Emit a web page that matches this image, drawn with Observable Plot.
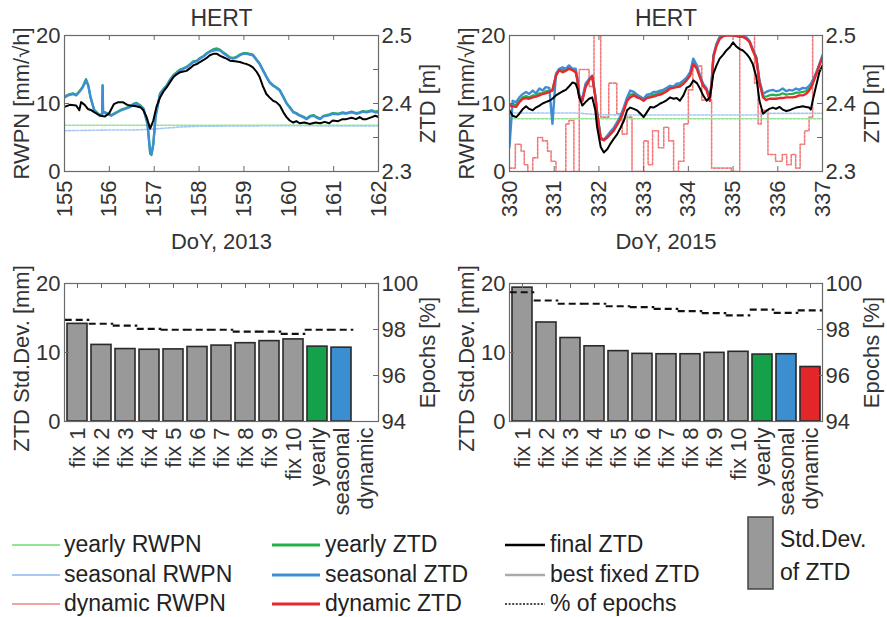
<!DOCTYPE html>
<html><head><meta charset="utf-8">
<script src="https://cdn.jsdelivr.net/npm/d3@7"></script>
<script src="https://cdn.jsdelivr.net/npm/@observablehq/plot@0.6"></script>
<style>
body{margin:0;background:#fff;}
#root{position:relative;width:887px;height:617px;overflow:hidden;font-family:"Liberation Sans",Arial,sans-serif;color:#333;background:#fff}
.panel{position:absolute}
.panel svg{overflow:visible}
.leg{position:absolute;font-size:23px;line-height:1;white-space:nowrap;color:#222}
</style></head>
<body><div id="root"></div>
<script>
// ---------------- DATA ----------------
// 2013 (DoY 155-162)
const days2013Final = [155.00,155.12,155.26,155.33,155.37,155.45,155.52,155.60,155.67,155.80,155.90,155.99,156.10,156.20,156.30,156.40,156.47,156.60,156.70,156.76,156.83,156.91,156.98,157.05,157.13,157.20,157.28,157.35,157.43,157.50,157.58,157.65,157.72,157.80,157.87,157.95,158.02,158.10,158.17,158.24,158.32,158.40,158.47,158.54,158.61,158.69,158.80,158.91,159.00,159.06,159.13,159.20,159.28,159.35,159.42,159.50,159.57,159.65,159.72,159.80,159.88,159.95,160.02,160.10,160.17,160.24,160.35,160.46,160.60,160.70,160.80,160.90,160.98,161.10,161.20,161.28,161.40,161.50,161.58,161.65,161.73,161.85,161.93,162.00];
const finalZTD2013 = [2.395,2.398,2.397,2.390,2.402,2.398,2.392,2.390,2.387,2.382,2.381,2.385,2.399,2.402,2.402,2.398,2.397,2.396,2.394,2.390,2.380,2.363,2.375,2.395,2.409,2.417,2.424,2.431,2.439,2.443,2.446,2.447,2.448,2.452,2.456,2.458,2.461,2.464,2.467,2.471,2.473,2.473,2.470,2.468,2.466,2.463,2.462,2.461,2.459,2.458,2.456,2.453,2.447,2.439,2.426,2.414,2.409,2.404,2.402,2.397,2.387,2.380,2.375,2.372,2.374,2.371,2.372,2.370,2.372,2.371,2.373,2.371,2.375,2.374,2.377,2.377,2.379,2.377,2.380,2.377,2.377,2.380,2.382,2.380];
const days2013 = [155.00,155.08,155.19,155.26,155.33,155.40,155.48,155.53,155.58,155.66,155.72,155.78,155.84,155.85,155.86,155.95,156.04,156.15,156.26,156.35,156.47,156.55,156.60,156.68,156.76,156.85,156.91,156.94,156.98,157.03,157.13,157.20,157.28,157.35,157.43,157.50,157.58,157.65,157.72,157.80,157.87,157.95,158.02,158.10,158.17,158.24,158.32,158.40,158.47,158.54,158.61,158.69,158.76,158.84,158.91,158.98,159.06,159.13,159.20,159.28,159.35,159.42,159.50,159.57,159.65,159.72,159.80,159.88,159.95,160.02,160.10,160.17,160.24,160.32,160.40,160.48,160.55,160.63,160.70,160.77,160.84,160.91,160.98,161.10,161.20,161.28,161.40,161.50,161.58,161.65,161.73,161.85,161.93,162.00];
const seasonalZTD2013 = [2.409,2.412,2.414,2.412,2.417,2.423,2.434,2.426,2.409,2.390,2.386,2.382,2.384,2.426,2.387,2.385,2.382,2.386,2.390,2.392,2.395,2.399,2.400,2.397,2.392,2.370,2.328,2.326,2.341,2.380,2.414,2.420,2.426,2.434,2.441,2.445,2.449,2.451,2.453,2.457,2.461,2.462,2.466,2.469,2.473,2.476,2.478,2.479,2.478,2.474,2.471,2.467,2.466,2.468,2.471,2.473,2.473,2.472,2.471,2.464,2.458,2.449,2.439,2.431,2.426,2.423,2.419,2.409,2.400,2.394,2.387,2.385,2.382,2.380,2.377,2.381,2.382,2.379,2.377,2.381,2.382,2.383,2.385,2.384,2.386,2.385,2.387,2.385,2.386,2.388,2.387,2.389,2.387,2.387];
const yearlyZTD2013 = [2.410,2.413,2.415,2.413,2.418,2.424,2.436,2.427,2.410,2.391,2.387,2.383,2.385,2.427,2.388,2.386,2.383,2.387,2.391,2.393,2.396,2.400,2.401,2.398,2.393,2.371,2.326,2.324,2.340,2.381,2.415,2.421,2.427,2.435,2.442,2.446,2.450,2.452,2.454,2.458,2.462,2.463,2.467,2.470,2.474,2.477,2.480,2.481,2.479,2.475,2.472,2.468,2.467,2.469,2.472,2.474,2.474,2.473,2.472,2.465,2.459,2.450,2.440,2.432,2.427,2.424,2.420,2.410,2.401,2.395,2.388,2.386,2.383,2.381,2.378,2.382,2.383,2.380,2.378,2.382,2.383,2.384,2.386,2.385,2.387,2.386,2.388,2.386,2.387,2.389,2.388,2.390,2.388,2.389];
const rwpnDays2013 = [155, 155.5, 156, 156.5, 156.9, 157.3, 157.6, 158, 159, 160, 161, 162];
const seasonalRWPN2013 = [6.0, 6.05, 6.1, 6.1, 6.2, 6.4, 6.55, 6.65, 6.7, 6.75, 6.7, 6.7];
const yearlyRWPN2013 = [6.8, 6.8, 6.8, 6.8, 6.8, 6.8, 6.8, 6.8, 6.8, 6.8, 6.8, 6.8];

// 2015 (DoY 330-337)
const days2015 = [330.00,330.07,330.15,330.22,330.30,330.37,330.44,330.52,330.59,330.67,330.74,330.81,330.89,330.96,331.04,331.11,331.19,331.26,331.33,331.41,331.48,331.52,331.56,331.63,331.70,331.78,331.85,331.92,331.96,332.04,332.11,332.19,332.26,332.33,332.41,332.48,332.56,332.63,332.70,332.78,332.85,332.93,333.00,333.07,333.15,333.22,333.30,333.37,333.44,333.52,333.59,333.67,333.74,333.81,333.89,333.96,334.04,334.11,334.19,334.26,334.33,334.41,334.48,334.52,334.56,334.63,334.70,334.78,334.85,334.93,335.00,335.07,335.15,335.22,335.30,335.37,335.44,335.52,335.59,335.67,335.74,335.81,335.89,335.96,336.04,336.11,336.19,336.26,336.33,336.41,336.48,336.56,336.63,336.70,336.74,336.78,336.85,336.93,337.00];
const finalZTD2015 = [2.390,2.382,2.380,2.385,2.392,2.396,2.392,2.390,2.394,2.397,2.400,2.402,2.404,2.407,2.412,2.415,2.418,2.420,2.425,2.431,2.429,2.422,2.409,2.397,2.402,2.407,2.409,2.390,2.365,2.336,2.328,2.333,2.341,2.348,2.355,2.364,2.375,2.390,2.394,2.392,2.390,2.385,2.380,2.387,2.395,2.394,2.397,2.400,2.402,2.405,2.409,2.407,2.408,2.404,2.412,2.423,2.426,2.434,2.430,2.422,2.412,2.404,2.409,2.426,2.444,2.456,2.466,2.472,2.478,2.483,2.490,2.484,2.480,2.478,2.473,2.467,2.458,2.439,2.404,2.385,2.389,2.392,2.394,2.392,2.395,2.391,2.389,2.390,2.392,2.394,2.395,2.396,2.395,2.394,2.391,2.404,2.424,2.446,2.456];
const dynamicZTD2015 = [2.397,2.396,2.395,2.402,2.407,2.408,2.407,2.409,2.410,2.412,2.414,2.415,2.417,2.419,2.441,2.449,2.446,2.448,2.451,2.449,2.446,2.434,2.409,2.404,2.424,2.434,2.440,2.409,2.385,2.348,2.346,2.350,2.355,2.360,2.369,2.377,2.390,2.404,2.409,2.412,2.409,2.407,2.404,2.408,2.409,2.410,2.412,2.413,2.415,2.418,2.422,2.423,2.424,2.425,2.429,2.434,2.441,2.458,2.451,2.438,2.426,2.419,2.404,2.429,2.468,2.485,2.495,2.499,2.500,2.500,2.500,2.499,2.498,2.498,2.495,2.490,2.478,2.466,2.431,2.409,2.405,2.407,2.407,2.407,2.408,2.408,2.409,2.409,2.409,2.410,2.412,2.412,2.414,2.419,2.423,2.429,2.441,2.456,2.468];
const seasonalZTD2015 = [2.336,2.404,2.402,2.409,2.414,2.417,2.414,2.419,2.415,2.422,2.419,2.424,2.423,2.370,2.444,2.451,2.453,2.451,2.456,2.451,2.451,2.436,2.412,2.407,2.429,2.436,2.441,2.412,2.387,2.350,2.347,2.353,2.359,2.364,2.373,2.381,2.395,2.409,2.419,2.417,2.413,2.410,2.407,2.413,2.414,2.417,2.417,2.419,2.420,2.423,2.426,2.425,2.429,2.430,2.434,2.438,2.446,2.466,2.456,2.441,2.429,2.422,2.409,2.431,2.471,2.488,2.498,2.501,2.502,2.502,2.503,2.501,2.500,2.500,2.497,2.492,2.480,2.468,2.434,2.414,2.417,2.419,2.420,2.418,2.419,2.422,2.418,2.420,2.419,2.422,2.420,2.423,2.422,2.426,2.429,2.434,2.444,2.458,2.471];
const yearlyZTD2015 = [2.398,2.399,2.398,2.404,2.409,2.411,2.409,2.412,2.412,2.415,2.415,2.418,2.419,2.420,2.442,2.450,2.449,2.449,2.453,2.450,2.448,2.435,2.410,2.405,2.426,2.435,2.440,2.410,2.386,2.349,2.346,2.351,2.357,2.362,2.371,2.379,2.392,2.406,2.413,2.414,2.411,2.408,2.405,2.410,2.411,2.413,2.414,2.416,2.417,2.420,2.424,2.424,2.426,2.427,2.431,2.436,2.443,2.461,2.453,2.440,2.427,2.420,2.406,2.430,2.469,2.486,2.496,2.500,2.501,2.501,2.501,2.500,2.499,2.499,2.496,2.491,2.479,2.467,2.432,2.411,2.410,2.412,2.413,2.412,2.413,2.415,2.413,2.414,2.414,2.416,2.416,2.417,2.418,2.422,2.426,2.431,2.442,2.457,2.469];
const rwpnDays2015 = [330, 331.5, 332, 333, 334, 335.5, 335.6, 337];
const seasonalRWPN2015 = [8.6, 8.6, 8.35, 8.3, 8.3, 8.3, 8.55, 8.55];
const yearlyRWPN2015 = [7.75, 7.75, 7.75, 7.75, 7.75, 7.75, 7.75, 7.75];
const dynRWPNDays2015 = [330.00,330.13,330.26,330.33,330.41,330.52,330.63,330.74,330.85,330.93,331.04,331.26,331.33,331.44,331.56,331.78,331.89,332.04,332.22,332.40,332.52,332.63,332.74,333.00,333.10,333.20,333.33,333.45,333.56,333.67,333.78,333.90,334.00,334.10,334.30,334.52,334.96,335.15,335.48,335.56,335.63,335.78,335.95,336.10,336.20,336.30,336.40,336.50,336.60,336.70,336.78,337.00];
const dynamicRWPN2015 = [0.5,4.0,3.0,1.0,0.0,2.0,5.0,4.5,3.0,1.5,0.0,7.0,7.5,0.0,15.0,12.5,21,8.0,13.0,8.5,5.5,8.0,0.0,4.5,1.0,6.0,3.5,6.5,4.5,0.0,1.5,7.0,12.0,15.5,10.5,0.5,0.0,21,13.0,7.0,9.0,2.5,1.5,2.5,1.0,2.5,0.5,4.0,6.0,8.0,21,21];

// Bar panels
const categories = ["fix 1","fix 2","fix 3","fix 4","fix 5","fix 6","fix 7","fix 8","fix 9","fix 10","yearly","seasonal","dynamic"];
const stdDev2013 = [14.15,11.1,10.5,10.4,10.45,10.8,11.0,11.35,11.65,11.9,10.85,10.7,null];
const epochs2013 = [98.42,98.25,98.17,98.03,97.99,97.99,97.99,97.91,97.91,97.81,97.99,97.99,null];
const stdDev2015 = [19.4,14.35,12.1,10.9,10.2,9.8,9.75,9.75,9.95,10.1,9.7,9.75,7.9];
const epochs2015 = [99.62,99.26,99.12,99.12,99.01,98.97,98.9,98.8,98.71,98.61,98.86,98.72,98.83];

// ticks
const rwpnTicks = [0, 10, 20];
const ztdTickLabels = [2.3, 2.4, 2.5];
const ztdTicks = [2.3, 2.35, 2.4, 2.45, 2.5];
const stdTicks = [0, 10, 20];
const epochTicks = [94, 96, 98, 100];
const dayTicks2013 = [155,156,157,158,159,160,161,162];
const dayTicks2015 = [330,331,332,333,334,335,336,337];

// ---------------- STYLE ----------------
const FONT = '"Liberation Sans", Arial, sans-serif';
const C = {
  yRW: "#93e493", sRW: "#a9c9f2", dRW: "#f27a7a",
  yZ: "#25b04a", sZ: "#3d8ed4", dZ: "#e8282b",
  fin: "#000", best: "#aaaaaa", frame: "#6a6a6a", text: "#333",
  barGray: "#999999", barY: "#14a14a", barS: "#3b8fd0", barD: "#e3262a"
};
const barColors = [C.barGray,C.barGray,C.barGray,C.barGray,C.barGray,C.barGray,C.barGray,C.barGray,C.barGray,C.barGray,C.barY,C.barS,C.barD];

const zToY = z => (z - 2.3) * 100;          // ZTD [m] onto the RWPN scale (2.3↔0, 2.5↔20)
const epToY = p => (p - 94) / 6 * 20;       // epochs [%] onto std-dev scale (94↔0, 100↔20)

const root = document.getElementById("root");
function place(svg, left, top) {
  const d = document.createElement("div");
  d.className = "panel"; d.style.left = left + "px"; d.style.top = top + "px";
  d.appendChild(svg); root.appendChild(d);
}
const zip = (xs, ys, key) => xs.map((x, i) => ({x, [key]: ys[i]})).filter(d => d[key] != null);
const centered = {textAnchor: "middle", lineAnchor: "middle"};

function timePanel(o) {
  const fw = o.width - o.mL - o.mR, fh = o.height - o.mT - o.mB;
  const marks = [];
  for (const s of o.rwpn) marks.push(Plot.line(zip(s.x, s.y, "v"), {x: "x", y: "v", stroke: s.color, strokeWidth: 1.6, strokeDasharray: "2.5,1.5", curve: s.curve || "linear", clip: true}));
  for (const s of o.lines) marks.push(Plot.line(zip(s.x, s.y, "z"), {x: "x", y: d => zToY(d.z), stroke: s.color, strokeWidth: s.w, clip: true}));
  marks.push(
    Plot.frame({stroke: C.frame, strokeWidth: 1.2}),
    Plot.tickY(rwpnTicks, {y: d => d, insetRight: fw - 5, stroke: C.frame}),
    Plot.tickY(ztdTicks.map(zToY), {y: d => d, insetLeft: fw - 5, stroke: C.frame}),
    Plot.tickX(o.xTicks, {x: d => d, insetTop: fh - 5, stroke: C.frame}),
    Plot.tickX(o.xTicks, {x: d => d, insetBottom: fh - 5, stroke: C.frame}),
    Plot.axisY(rwpnTicks, {anchor: "left", tickSize: 0, tickPadding: 4, label: null}),
    Plot.axisY(ztdTickLabels.map(zToY), {anchor: "right", tickSize: 0, tickPadding: 3, label: null, tickFormat: d => (2.3 + d / 100).toFixed(1)}),
    Plot.axisX(o.xTicks, {anchor: "bottom", tickSize: 0, tickPadding: 9, tickRotate: -90, label: null, tickFormat: d => String(d)}),
    Plot.text(["RWPN [mm/√h]"], {text: d => d, frameAnchor: "left", dx: -43, rotate: -90, ...centered}),
    Plot.text(["ZTD [m]"], {text: d => d, frameAnchor: "right", dx: 49, rotate: -90, ...centered}),
    Plot.text([o.xLabel], {text: d => d, frameAnchor: "bottom", dy: 70, ...centered}),
    Plot.text(["HERT"], {text: d => d, frameAnchor: "top", dy: -16.5, fontSize: 23, ...centered})
  );
  const svg = Plot.plot({
    width: o.width, height: o.height,
    marginLeft: o.mL, marginRight: o.mR, marginTop: o.mT, marginBottom: o.mB,
    x: {domain: o.xDomain},
    y: {domain: [0, 20]},
    style: {fontSize: "22px", fontFamily: FONT, color: C.text, background: "transparent", overflow: "visible"},
    marks
  });
  place(svg, o.left, o.top);
}

function barPanel(o) {
  const fw = o.width - o.mL - o.mR, fh = o.height - o.mT - o.mB;
  const data = categories.map((cat, i) => ({cat, sd: o.sd[i], ep: o.ep[i], color: barColors[i]}));
  const svg = Plot.plot({
    width: o.width, height: o.height,
    marginLeft: o.mL, marginRight: o.mR, marginTop: o.mT, marginBottom: o.mB,
    x: {type: "band", domain: categories, paddingInner: 0.18, paddingOuter: 0.09},
    y: {domain: [0, 20]},
    color: {type: "identity"},
    style: {fontSize: "22px", fontFamily: FONT, color: C.text, background: "transparent", overflow: "visible"},
    marks: [
      Plot.barY(data.filter(d => d.sd != null), {x: "cat", y: "sd", fill: "color", stroke: "#2a2a2a", strokeWidth: 1.6}),
      Plot.tickY(data.filter(d => d.ep != null), {x: "cat", y: d => epToY(d.ep), stroke: "#111", strokeWidth: 2.2, strokeDasharray: "7,4", insetLeft: -2.3, insetRight: -2.3}),
      Plot.frame({stroke: C.frame, strokeWidth: 1.2}),
      Plot.tickY(stdTicks, {y: d => d, insetRight: fw - 5, stroke: C.frame}),
      Plot.tickY(epochTicks.map(epToY), {y: d => d, insetLeft: fw - 5, stroke: C.frame}),
      Plot.tickX(categories, {x: d => d, insetBottom: fh - 5, stroke: C.frame}),
      Plot.axisY(stdTicks, {anchor: "left", tickSize: 0, tickPadding: 4, label: null}),
      Plot.axisY(epochTicks.map(epToY), {anchor: "right", tickSize: 0, tickPadding: 3, label: null, tickFormat: d => String(Math.round(94 + d * 6 / 20))}),
      Plot.axisX(categories, {anchor: "bottom", tickSize: 0, tickPadding: 6, tickRotate: -90, label: null}),
      Plot.text(["ZTD Std.Dev. [mm]"], {text: d => d, frameAnchor: "left", dx: -43, dy: 6, rotate: -90, ...centered}),
      Plot.text(["Epochs [%]"], {text: d => d, frameAnchor: "right", dx: 49, rotate: -90, ...centered})
    ]
  });
  place(svg, o.left, o.top);
}

// ---------------- PANELS ----------------
timePanel({
  left: 0, top: 0, width: 440, height: 250, mL: 64, mR: 62, mT: 35, mB: 79,
  xDomain: [155, 162], xTicks: dayTicks2013, xLabel: "DoY, 2013",
  rwpn: [
    {x: rwpnDays2013, y: seasonalRWPN2013, color: C.sRW},
    {x: rwpnDays2013, y: yearlyRWPN2013, color: C.yRW}
  ],
  lines: [
    {x: days2013, y: yearlyZTD2013, color: C.yZ, w: 2.2},
    {x: days2013, y: seasonalZTD2013, color: C.sZ, w: 2.4},
    {x: days2013Final, y: finalZTD2013, color: C.fin, w: 2}
  ]
});
timePanel({
  left: 440, top: 0, width: 447, height: 250, mL: 69, mR: 65, mT: 35, mB: 79,
  xDomain: [330, 337], xTicks: dayTicks2015, xLabel: "DoY, 2015",
  rwpn: [
    {x: dynRWPNDays2015, y: dynamicRWPN2015, color: C.dRW, curve: "step-after"},
    {x: rwpnDays2015, y: seasonalRWPN2015, color: C.sRW},
    {x: rwpnDays2015, y: yearlyRWPN2015, color: C.yRW}
  ],
  lines: [
    {x: days2015, y: yearlyZTD2015, color: C.yZ, w: 2.2},
    {x: days2015, y: seasonalZTD2015, color: C.sZ, w: 2.4},
    {x: days2015, y: dynamicZTD2015, color: C.dZ, w: 2.4},
    {x: days2015, y: finalZTD2015, color: C.fin, w: 2}
  ]
});
barPanel({left: 0, top: 250, width: 440, height: 270, mL: 64, mR: 62, mT: 33, mB: 99, sd: stdDev2013, ep: epochs2013});
barPanel({left: 440, top: 250, width: 447, height: 270, mL: 69, mR: 65, mT: 33, mB: 99, sd: stdDev2015, ep: epochs2015});

// ---------------- LEGEND ----------------
const legendItems = [
  {label: "yearly RWPN", color: C.yRW, w: 2, dash: null, col: 0, row: 0},
  {label: "seasonal RWPN", color: C.sRW, w: 2, dash: null, col: 0, row: 1},
  {label: "dynamic RWPN", color: "#f4a3a3", w: 2, dash: null, col: 0, row: 2},
  {label: "yearly ZTD", color: C.yZ, w: 3, dash: null, col: 1, row: 0},
  {label: "seasonal ZTD", color: C.sZ, w: 3, dash: null, col: 1, row: 1},
  {label: "dynamic ZTD", color: C.dZ, w: 3, dash: null, col: 1, row: 2},
  {label: "final ZTD", color: C.fin, w: 2.5, dash: null, col: 2, row: 0},
  {label: "best fixed ZTD", color: C.best, w: 2.5, dash: null, col: 2, row: 1},
  {label: "% of epochs", color: "#111", w: 1.6, dash: "2,1.6", col: 2, row: 2}
];
const colLineX = [12, 272, 505], colLineW = [48, 48, 40], colTextX = [64, 325, 550], rowY = [545, 575, 604];
for (const it of legendItems) {
  const x0 = colLineX[it.col], lw = colLineW[it.col], y = rowY[it.row];
  const s = document.createElementNS("http://www.w3.org/2000/svg", "svg");
  s.setAttribute("width", lw); s.setAttribute("height", 8);
  s.style.position = "absolute"; s.style.left = x0 + "px"; s.style.top = (y - 4) + "px";
  s.innerHTML = `<line x1="0" y1="4" x2="${lw}" y2="4" stroke="${it.color}" stroke-width="${it.w}" ${it.dash ? `stroke-dasharray="${it.dash}"` : ""}/>`;
  root.appendChild(s);
  const t = document.createElement("div");
  t.className = "leg"; t.textContent = it.label;
  t.style.left = colTextX[it.col] + "px"; t.style.top = (y - 12) + "px";
  root.appendChild(t);
}
const box = document.createElementNS("http://www.w3.org/2000/svg", "svg");
box.setAttribute("width", 28); box.setAttribute("height", 76);
box.style.position = "absolute"; box.style.left = "747px"; box.style.top = "516px";
box.innerHTML = `<rect x="1" y="1" width="25" height="72" fill="${C.barGray}" stroke="#444" stroke-width="1.5"/>`;
root.appendChild(box);
for (const [txt, y] of [["Std.Dev.", 540], ["of ZTD", 573]]) {
  const t = document.createElement("div");
  t.className = "leg"; t.textContent = txt; t.style.left = "780px"; t.style.top = (y - 12) + "px";
  root.appendChild(t);
}
</script>
</body></html>
